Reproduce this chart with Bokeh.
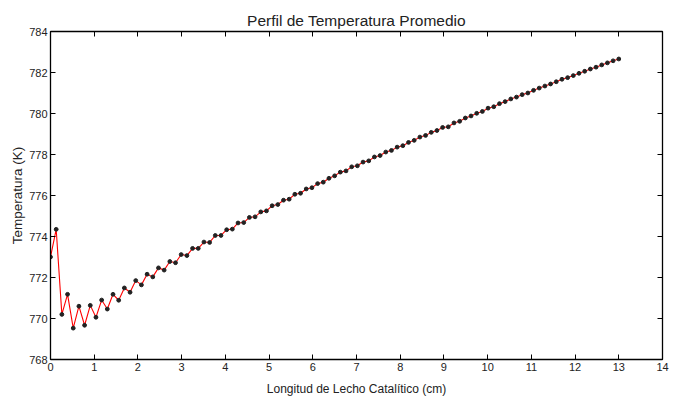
from bokeh.plotting import figure
from bokeh.models import LinearAxis, Range1d, FixedTicker
from bokeh.embed import file_html
from bokeh.resources import INLINE

# Longitud (cm): 101 points from 0 to 13 in steps of 0.13
x_step = 0.13
n_points = 101
longitud = [round(i * x_step, 2) for i in range(n_points)]

temperatura = [
    773.00, 774.35, 770.20, 771.18, 769.53, 770.60, 769.67, 770.64, 770.06, 770.90,
    770.46, 771.18, 770.89, 771.49, 771.28, 771.85, 771.64, 772.16, 772.03, 772.47,
    772.36, 772.78, 772.72, 773.12, 773.07, 773.42, 773.42, 773.73, 773.71, 774.05,
    774.05, 774.33, 774.36, 774.66, 774.68, 774.93, 774.96, 775.20, 775.25, 775.50,
    775.56, 775.77, 775.82, 776.06, 776.11, 776.32, 776.38, 776.58, 776.65, 776.84,
    776.96, 777.14, 777.20, 777.40, 777.45, 777.63, 777.69, 777.88, 777.95, 778.12,
    778.20, 778.36, 778.43, 778.59, 778.69, 778.85, 778.93, 779.08, 779.17, 779.32,
    779.35, 779.54, 779.62, 779.78, 779.88, 780.01, 780.10, 780.26, 780.33, 780.48,
    780.58, 780.71, 780.80, 780.92, 781.00, 781.13, 781.24, 781.34, 781.44, 781.55,
    781.67, 781.75, 781.85, 781.96, 782.06, 782.17, 782.26, 782.37, 782.47, 782.57,
    782.66,
]

x_ticks = list(range(0, 15))
y_ticks = list(range(768, 785, 2))

FONT = "Liberation Sans"

p = figure(
    width=670, height=398,
    x_range=Range1d(0, 14), y_range=Range1d(768, 784),
    output_backend="svg", toolbar_location=None,
    title="Perfil de Temperatura Promedio",
    min_border_left=50, min_border_right=8, min_border_top=31, min_border_bottom=38,
)
p.title.align = "center"
p.title.text_font = FONT
p.title.text_font_size = "15.5px"
p.title.text_font_style = "normal"
p.title.text_color = "#222222"
p.title.offset = 0
p.title.standoff = 5

p.xgrid.visible = False
p.ygrid.visible = False
p.outline_line_color = "black"
p.outline_line_width = 1

def style_axis(ax, labels=True):
    ax.axis_line_color = "black"
    ax.axis_line_width = 1.3
    ax.major_tick_in = 5
    ax.major_tick_out = 0
    ax.minor_tick_in = 0
    ax.minor_tick_out = 0
    ax.major_tick_line_color = "black"
    ax.major_label_text_font = FONT
    ax.major_label_text_font_size = "11px"
    ax.major_label_text_color = "#222222"
    ax.axis_label_text_font = FONT
    ax.axis_label_text_font_size = "12px"
    ax.axis_label_text_font_style = "normal"
    ax.axis_label_text_color = "#222222"
    if not labels:
        ax.major_label_text_color = None
        ax.major_label_standoff = 0

p.xaxis.ticker = FixedTicker(ticks=x_ticks)
p.yaxis.ticker = FixedTicker(ticks=y_ticks)
p.xaxis.axis_label = "Longitud de Lecho Catalítico (cm)"
p.yaxis.axis_label = "Temperatura (K)"
p.xaxis.major_label_standoff = 3
p.yaxis.major_label_standoff = 3
p.xaxis.axis_label_standoff = 8
p.yaxis.axis_label_standoff = 1
style_axis(p.xaxis[0])
style_axis(p.yaxis[0])
p.yaxis.axis_label_text_font_size = "13.5px"

top = LinearAxis(ticker=FixedTicker(ticks=x_ticks))
style_axis(top, labels=False)
p.add_layout(top, "above")
right = LinearAxis(ticker=FixedTicker(ticks=y_ticks))
style_axis(right, labels=False)
p.add_layout(right, "right")

p.line(longitud, temperatura, line_color="red", line_width=1.1)
p.scatter(longitud, temperatura, marker="circle", size=3.8, fill_color="#222222",
          line_color="#222222")

open("out.html", "w").write(file_html(p, INLINE))
